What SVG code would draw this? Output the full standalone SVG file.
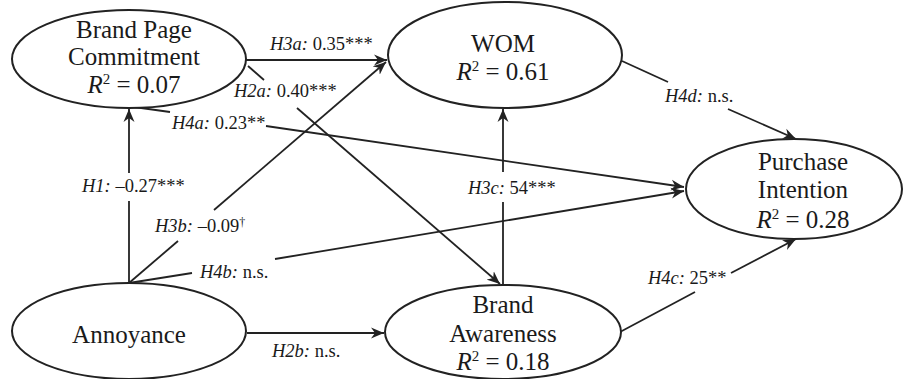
<svg xmlns="http://www.w3.org/2000/svg" width="905" height="379" viewBox="0 0 905 379">
<defs>
<marker id="arr" markerUnits="userSpaceOnUse" markerWidth="14" markerHeight="12" refX="13" refY="6" orient="auto">
<path d="M0,0.5 L13,6 L0,11.5 L4,6 z" fill="#222"/>
</marker>
<style>
.node ellipse{fill:#fff;stroke:#222;stroke-width:2}
.node text{font-family:"Liberation Serif","Times New Roman",serif;font-size:25px;fill:#1a1a1a;text-anchor:middle}
.edge line{stroke:#222;stroke-width:1.8;fill:none}
.lbl{font-family:"Liberation Serif","Times New Roman",serif;font-size:18.5px;fill:#1a1a1a}
.it{font-style:italic}
</style>
</defs>
<rect width="905" height="379" fill="#fff"/>
<g id="connectors" class="edge">
<!-- H1 -->
<line x1="129" y1="283" x2="129" y2="201"/>
<line x1="129" y1="173" x2="129" y2="109" marker-end="url(#arr)"/>
<!-- H3b -->
<line x1="129" y1="283" x2="178" y2="241"/>
<line x1="214" y1="210" x2="386" y2="62" marker-end="url(#arr)"/>
<!-- H4b -->
<line x1="129" y1="283" x2="192" y2="273"/>
<line x1="275" y1="259" x2="684" y2="191" marker-end="url(#arr)"/>
<!-- H4a -->
<line x1="134" y1="107" x2="170" y2="112"/>
<line x1="266" y1="126" x2="684" y2="187" marker-end="url(#arr)"/>
<!-- H3a -->
<line x1="246" y1="60" x2="387" y2="60" marker-end="url(#arr)"/>
<!-- H2a -->
<line x1="248" y1="66" x2="264" y2="80"/>
<line x1="297" y1="108" x2="500" y2="284" marker-end="url(#arr)"/>
<!-- H3c -->
<line x1="503" y1="285" x2="503" y2="202"/>
<line x1="503" y1="172" x2="503" y2="109" marker-end="url(#arr)"/>
<!-- H4d -->
<line x1="622" y1="61" x2="668" y2="82"/>
<line x1="728" y1="109" x2="796" y2="139" marker-end="url(#arr)"/>
<!-- H2b -->
<line x1="247" y1="333" x2="384" y2="333" marker-end="url(#arr)"/>
<!-- H4c -->
<line x1="620" y1="332" x2="695" y2="292"/>
<line x1="731" y1="273" x2="796" y2="239" marker-end="url(#arr)"/>
</g>
<g id="labels">
<text class="lbl" x="82" y="192"><tspan class="it">H1:</tspan> –0.27***</text>
<text class="lbl" x="155" y="232"><tspan class="it">H3b:</tspan> –0.09<tspan font-size="12" dy="-6">†</tspan></text>
<text class="lbl" x="200" y="278"><tspan class="it">H4b:</tspan> n.s.</text>
<text class="lbl" x="172" y="129"><tspan class="it">H4a:</tspan> 0.23**</text>
<text class="lbl" x="270" y="50"><tspan class="it">H3a:</tspan> 0.35***</text>
<text class="lbl" x="234" y="97"><tspan class="it">H2a:</tspan> 0.40***</text>
<text class="lbl" x="468" y="194"><tspan class="it">H3c:</tspan> 54***</text>
<text class="lbl" x="665" y="102"><tspan class="it">H4d:</tspan> n.s.</text>
<text class="lbl" x="272" y="357"><tspan class="it">H2b:</tspan> n.s.</text>
<text class="lbl" x="648" y="284"><tspan class="it">H4c:</tspan> 25**</text>
</g>
<g id="node-bpc" class="node">
<ellipse cx="129" cy="59" rx="117" ry="49"/>
<text x="134" y="38">Brand Page</text>
<text x="134" y="65">Commitment</text>
<text x="134" y="93"><tspan font-style="italic">R</tspan><tspan font-size="15" dy="-9">2</tspan><tspan dy="9"> = 0.07</tspan></text>
</g>
<g id="node-wom" class="node">
<ellipse cx="505" cy="55" rx="117" ry="53"/>
<text x="503" y="52">WOM</text>
<text x="503" y="80"><tspan font-style="italic">R</tspan><tspan font-size="15" dy="-9">2</tspan><tspan dy="9"> = 0.61</tspan></text>
</g>
<g id="node-pi" class="node">
<ellipse cx="794" cy="189" rx="108" ry="50"/>
<text x="803" y="170">Purchase</text>
<text x="803" y="198">Intention</text>
<text x="803" y="228"><tspan font-style="italic">R</tspan><tspan font-size="15" dy="-9">2</tspan><tspan dy="9"> = 0.28</tspan></text>
</g>
<g id="node-annoyance" class="node">
<ellipse cx="129" cy="331" rx="117" ry="48"/>
<text x="129" y="343">Annoyance</text>
</g>
<g id="node-ba" class="node">
<ellipse cx="503" cy="332" rx="118" ry="47"/>
<text x="503" y="313">Brand</text>
<text x="503" y="342">Awareness</text>
<text x="503" y="370"><tspan font-style="italic">R</tspan><tspan font-size="15" dy="-9">2</tspan><tspan dy="9"> = 0.18</tspan></text>
</g>
</svg>
